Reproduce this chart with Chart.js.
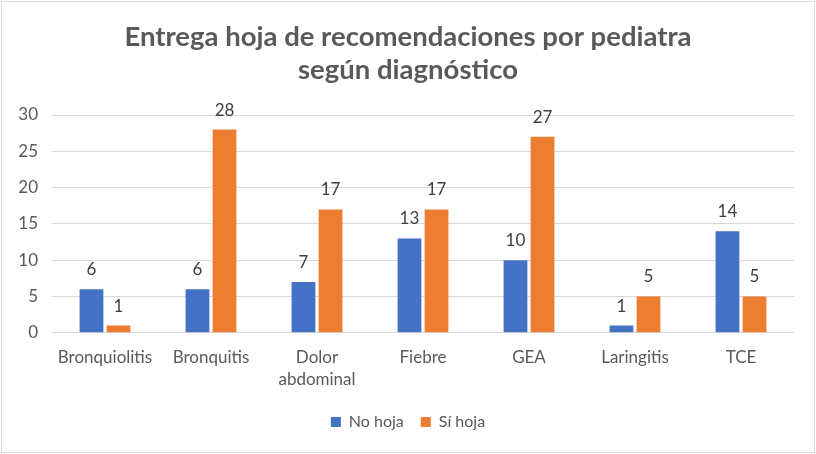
<!DOCTYPE html>
<html lang="es">
<head>
  <meta charset="UTF-8">
  <title>Entrega hoja de recomendaciones</title>
  <script src="https://cdn.jsdelivr.net/npm/chart.js"></script>
  <style>
    body { margin: 0; background: #fff; }
    .chart-container {
      position: relative;
      width: 812px;
      height: 450px;
      margin: 1px;
      border: 1px solid #d9d9d9;
    }
  </style>
</head>
<body>
  <div class="chart-container">
    <canvas id="reportChart"></canvas>
  </div>

  <script>
    const categories = ['Bronquiolitis', 'Bronquitis', ['Dolor', 'abdominal'], 'Fiebre', 'GEA', 'Laringitis', 'TCE'];
    const noHoja = [6, 6, 7, 13, 10, 1, 14];
    const siHoja = [1, 28, 17, 17, 27, 5, 5];
    const yTicks = [0, 5, 10, 15, 20, 25, 30];

    const fontFamily = "Lato, 'Open Sans', sans-serif";

    // value labels above each bar
    const barLabels = {
      id: 'barLabels',
      afterDatasetsDraw(chart) {
        const ctx = chart.ctx;
        ctx.save();
        ctx.font = '17px ' + fontFamily;
        ctx.fillStyle = '#404040';
        ctx.textAlign = 'center';
        ctx.textBaseline = 'bottom';
        chart.data.datasets.forEach((ds, i) => {
          chart.getDatasetMeta(i).data.forEach((bar, j) => {
            ctx.fillText(ds.data[j], bar.x, bar.y - 11);
          });
        });
        ctx.restore();
      }
    };

    const ctx = document.getElementById('reportChart').getContext('2d');
    window.myChart = new Chart(ctx, {
      type: 'bar',
      data: {
        labels: categories,
        datasets: [
          { label: 'No hoja', data: noHoja, backgroundColor: '#4472c4', yAxisID: 'y' },
          { label: 'Sí hoja', data: siHoja, backgroundColor: '#ed7d31', yAxisID: 'y' }
        ]
      },
      options: {
        responsive: true,
        maintainAspectRatio: false,
        animation: false,
        categoryPercentage: 0.51,
        barPercentage: 0.88,
        layout: { padding: { left: 12, right: 12, top: 8, bottom: 12 } },
        plugins: {
          title: {
            display: true,
            text: ['Entrega hoja de recomendaciones por pediatra', 'según diagnóstico'],
            color: '#595959',
            font: { family: fontFamily, size: 27.5, weight: 'bold', lineHeight: 1.2 },
            padding: { top: 11, bottom: 28 }
          },
          legend: {
            position: 'bottom',
            labels: {
              color: '#595959',
              font: { family: fontFamily, size: 16 },
              boxWidth: 10,
              boxHeight: 10,
              padding: 17
            }
          },
          tooltip: { enabled: false }
        },
        scales: {
          x: {
            grid: { display: false },
            border: { display: false },
            ticks: {
              color: '#595959',
              font: { family: fontFamily, size: 17, lineHeight: 1.3 },
              padding: 6,
              maxRotation: 0
            }
          },
          y: {
            min: 0,
            max: 30,
            afterBuildTicks: (axis) => { axis.ticks = yTicks.map(v => ({ value: v })); },
            afterFit: (axis) => { axis.width = 38; },
            grid: { color: '#d9d9d9', lineWidth: 1, drawTicks: false },
            border: { display: false },
            ticks: {
              color: '#595959',
              font: { family: fontFamily, size: 17 },
              padding: 14
            }
          },
          // empty right-hand spacer so the plot keeps the reference's right margin
          spacer: {
            type: 'linear',
            axis: 'y',
            position: 'right',
            grid: { display: false },
            border: { display: false },
            ticks: { display: false },
            afterFit: (axis) => { axis.width = 8; }
          }
        }
      },
      plugins: [barLabels]
    });
  </script>
</body>
</html>
